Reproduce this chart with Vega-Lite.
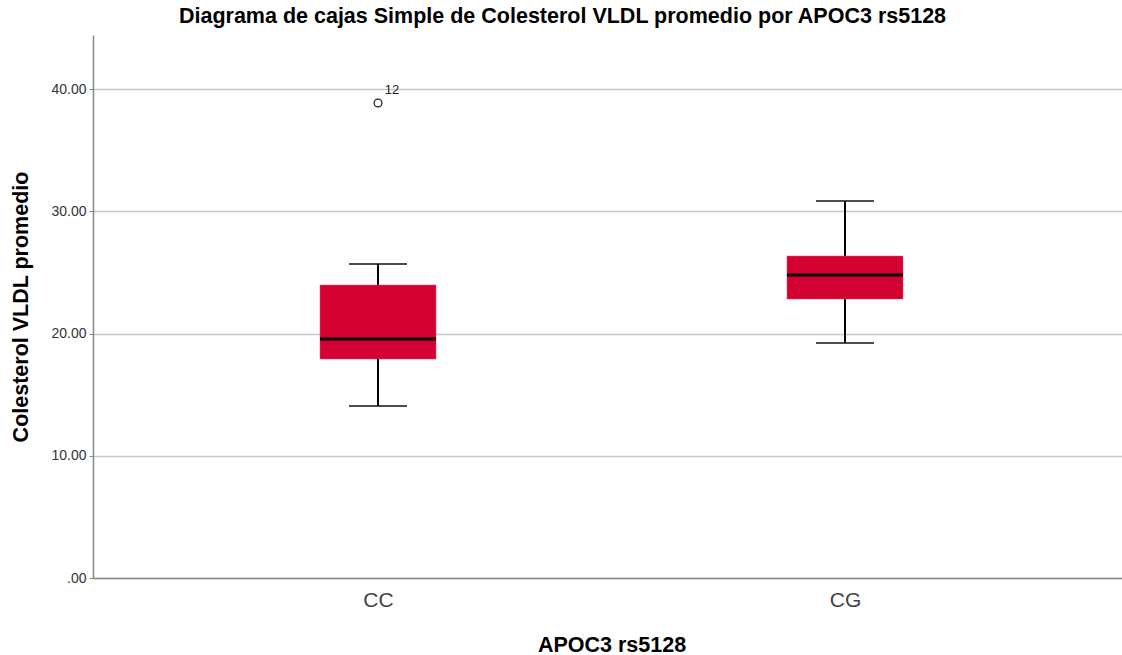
{
  "$schema": "https://vega.github.io/schema/vega-lite/v6.json",
  "autosize": {"type": "none"},
  "width": 1029,
  "height": 543,
  "padding": {"left": 93, "top": 35, "right": 0, "bottom": 77},
  "background": "white",
  "title": {
    "text": "Diagrama de cajas Simple de Colesterol VLDL promedio por APOC3 rs5128",
    "font": "Liberation Sans",
    "fontSize": 21.5,
    "fontWeight": "bold",
    "color": "#000000",
    "frame": "group",
    "anchor": "middle",
    "dx": -45,
    "offset": 8
  },
  "config": {
    "view": {"stroke": null},
    "axis": {"labelFont": "Liberation Sans", "titleFont": "Liberation Sans"}
  },
  "datasets": {
    "boxes": [
      {"genotipo": "CC", "lower": 14.07, "q1": 17.91, "median": 19.55, "q3": 23.97, "upper": 25.69},
      {"genotipo": "CG", "lower": 19.22, "q1": 22.82, "median": 24.79, "q3": 26.34, "upper": 30.84}
    ],
    "outliers": [
      {"genotipo": "CC", "valor": 38.86, "caso": "12"}
    ]
  },
  "encoding": {
    "x": {
      "field": "genotipo",
      "type": "nominal",
      "scale": {"type": "point", "domain": ["CC", "CG"], "padding": 0.6103, "range": [0, 1037]},
      "axis": {
        "title": "APOC3 rs5128",
        "titleFontSize": 21.5,
        "titleFontWeight": "bold",
        "titleColor": "#000000",
        "titlePadding": 24,
        "labelFontSize": 21,
        "labelColor": "#444444",
        "labelPadding": 11,
        "labelAngle": 0,
        "ticks": false,
        "domainColor": "#888888",
        "domainWidth": 1.5,
        "grid": false
      }
    }
  },
  "layer": [
    {
      "data": {"name": "boxes"},
      "mark": {"type": "rule", "color": "#000000", "strokeWidth": 2},
      "encoding": {
        "y": {
          "field": "lower",
          "type": "quantitative",
          "scale": {"domain": [0, 44.42], "nice": false, "zero": false},
          "axis": {
            "title": "Colesterol VLDL promedio",
            "titleFontSize": 21.5,
            "titleFontWeight": "bold",
            "titleColor": "#000000",
            "titlePadding": 18,
            "values": [0, 10, 20, 30, 40],
            "labelExpr": "datum.value == 0 ? '.00' : format(datum.value, '.2f')",
            "labelFontSize": 14,
            "labelColor": "#333333",
            "labelPadding": 3,
            "tickSize": 4,
            "tickColor": "#888888",
            "domainColor": "#888888",
            "domainWidth": 1.5,
            "grid": true,
            "gridColor": "#c8c8c8",
            "gridWidth": 1.5
          }
        },
        "y2": {"field": "upper"}
      }
    },
    {
      "data": {"name": "boxes"},
      "mark": {"type": "tick", "color": "#000000", "thickness": 2, "size": 58},
      "encoding": {"y": {"field": "lower", "type": "quantitative"}}
    },
    {
      "data": {"name": "boxes"},
      "mark": {"type": "tick", "color": "#000000", "thickness": 2, "size": 58},
      "encoding": {"y": {"field": "upper", "type": "quantitative"}}
    },
    {
      "data": {"name": "boxes"},
      "mark": {"type": "bar", "color": "#d50032", "width": 116, "stroke": "#e05070", "strokeWidth": 0.5},
      "encoding": {
        "y": {"field": "q1", "type": "quantitative"},
        "y2": {"field": "q3"}
      }
    },
    {
      "data": {"name": "boxes"},
      "mark": {"type": "tick", "color": "#000000", "thickness": 3, "size": 116, "opacity": 1},
      "encoding": {"y": {"field": "median", "type": "quantitative"}}
    },
    {
      "data": {"name": "outliers"},
      "mark": {"type": "point", "shape": "circle", "size": 60, "filled": false, "stroke": "#222222", "strokeWidth": 1.3, "opacity": 1},
      "encoding": {"y": {"field": "valor", "type": "quantitative"}}
    },
    {
      "data": {"name": "outliers"},
      "mark": {"type": "text", "font": "Liberation Sans", "fontSize": 13, "color": "#222222", "dx": 14, "dy": -13},
      "encoding": {
        "y": {"field": "valor", "type": "quantitative"},
        "text": {"field": "caso"}
      }
    }
  ]
}
